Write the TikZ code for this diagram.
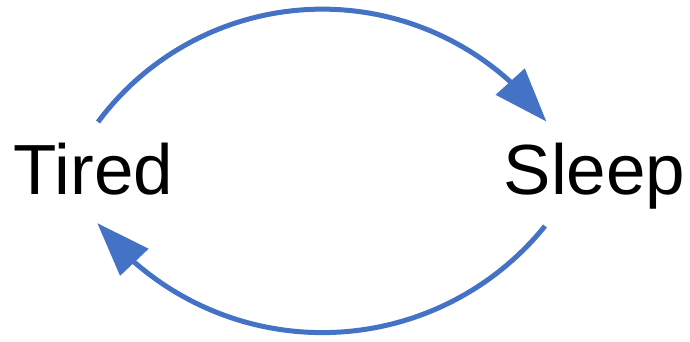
\documentclass[tikz,border=0pt]{standalone}
\usepackage{fontspec}
\setmainfont{Liberation Sans}
\usetikzlibrary{arrows.meta,bending}
\definecolor{arcblue}{HTML}{4472C4}
\begin{document}
\begin{tikzpicture}[x=1pt,y=-1pt,
  lbl/.style={inner sep=0pt,anchor=base,font=\fontsize{71}{80}\selectfont},
  cyc/.style={draw=arcblue,line width=5pt,-{Triangle[length=54pt,width=38pt,flex]}}]
\useasboundingbox (0,0) rectangle (690,342);
\node[lbl] (tired) at (93.5,194) {Tired};
\node[lbl] (sleep) at (594.5,194) {Sleep};
\coordinate (topstart) at (98,122);
\coordinate (botstart) at (545,226);
\draw[cyc] (topstart) arc[start angle=-143.4,end angle=-36.7,radius=279.5];
\draw[cyc] (botstart) arc[start angle=38.85,end angle=141.9,radius=286];
\end{tikzpicture}
\end{document}
